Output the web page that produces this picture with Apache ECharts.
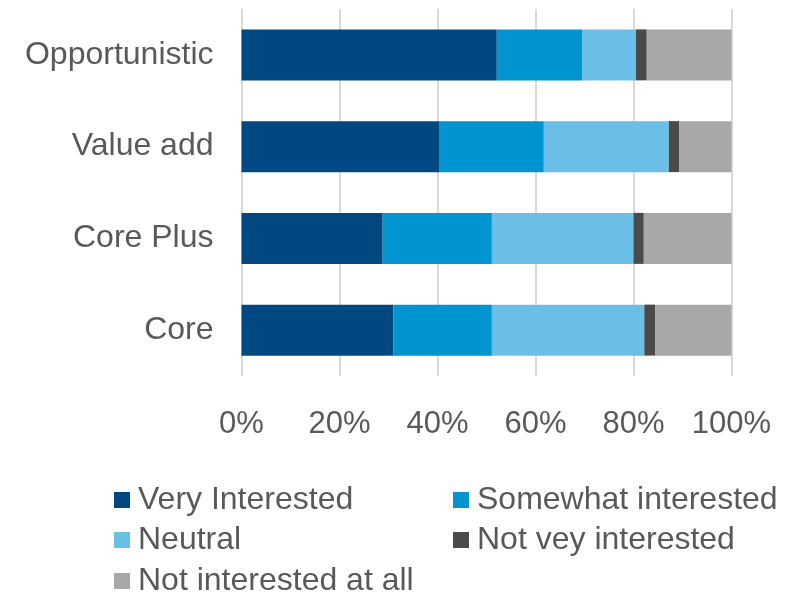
<!DOCTYPE html>
<html>
<head>
<meta charset="utf-8">
<script src="https://cdn.jsdelivr.net/npm/echarts@6/dist/echarts.min.js"></script>
<style>
  html, body { margin: 0; padding: 0; background: #ffffff; }
  #chart { width: 803px; height: 597px; }
</style>
</head>
<body>
<div id="chart"></div>
<script>
// Investment strategies, top to bottom
const categories = ['Opportunistic', 'Value add', 'Core Plus', 'Core'];

// Share of respondents (%) for each interest level, in category order
const veryInterested     = [52.1, 40.3, 28.8, 31.0];
const somewhatInterested = [17.4, 21.4, 22.3, 20.1];
const neutral            = [11.0, 25.5, 28.9, 31.1];
const notVeryInterested  = [2.2, 2.1, 2.1, 2.2];
const notInterestedAtAll = [17.3, 10.7, 17.9, 15.6];

const seriesNames = ['Very Interested', 'Somewhat interested', 'Neutral', 'Not vey interested', 'Not interested at all'];
const seriesValues = [veryInterested, somewhatInterested, neutral, notVeryInterested, notInterestedAtAll];
const seriesColors = ['#004882', '#0094D0', '#6BBFE6', '#4A4A4A', '#A8A8A8'];

const textColor = '#595959';
const fontFamily = '"Liberation Sans", Arial, sans-serif';

// Legend laid out as a two-column block
const legendSlots = [
  { left: 114, top: 484 },
  { left: 453, top: 484 },
  { left: 114, top: 524 },
  { left: 453, top: 524 },
  { left: 114, top: 565 }
];

const chart = echarts.init(document.getElementById('chart'), null, { renderer: 'canvas' });

chart.setOption({
  backgroundColor: '#ffffff',
  animation: false,
  grid: { left: 241.5, right: 71.5, top: 9, bottom: 221, containLabel: false },
  xAxis: {
    type: 'value',
    min: 0,
    max: 100,
    interval: 20,
    axisLine: { show: false },
    axisTick: { show: false },
    splitLine: { show: true, lineStyle: { color: '#d9d9d9', width: 2 } },
    axisLabel: {
      formatter: '{value}%',
      color: textColor,
      fontSize: 31,
      fontFamily: fontFamily,
      margin: 33
    }
  },
  yAxis: {
    type: 'category',
    data: categories,
    inverse: true,
    axisLine: { show: false },
    axisTick: { show: false },
    splitLine: { show: false },
    axisLabel: {
      color: textColor,
      fontSize: 32,
      fontFamily: fontFamily,
      margin: 28,
      padding: [6, 0, 0, 0]
    }
  },
  legend: seriesNames.map((name, i) => ({
    data: [name],
    left: legendSlots[i].left,
    top: legendSlots[i].top,
    padding: 0,
    itemWidth: 16,
    itemHeight: 16,
    icon: 'rect',
    selectedMode: false,
    textStyle: {
      color: textColor,
      fontSize: 32,
      fontFamily: fontFamily,
      padding: [0, 0, 0, 3]
    }
  })),
  series: seriesNames.map((name, i) => ({
    name: name,
    type: 'bar',
    stack: 'total',
    barWidth: 51,
    data: seriesValues[i],
    itemStyle: { color: seriesColors[i] },
    emphasis: { disabled: true }
  }))
});
</script>
</body>
</html>
